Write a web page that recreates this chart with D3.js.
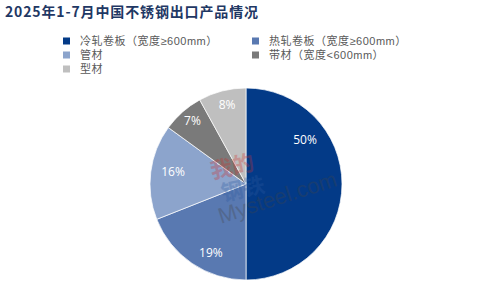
<!DOCTYPE html>
<html>
<head>
<meta charset="utf-8">
<script src="https://cdn.jsdelivr.net/npm/d3@7"></script>
<style>
  body { margin: 0; background: #fff; }
  svg { display: block; }
</style>
</head>
<body>
<svg width="501" height="286"></svg>
<script>
const title = '2025年1-7月中国不锈钢出口产品情况'

// product categories, in clockwise order from 12 o'clock
const categories = ['冷轧卷板（宽度≥600mm）', '热轧卷板（宽度≥600mm）', '管材', '带材（宽度<600mm）', '型材']
const shares = [50, 19, 16, 7, 8]
const colors = ['#033a87', '#5979b1', '#8ca4cc', '#7a7a7a', '#bfbfbf']

const svg = d3.select('svg'),
    cx = 246,
    cy = 184,
    radius = 96

// label placement, like the spreadsheet's own: fraction of radius, angle tweak (deg)
const labelRadius = [0.77, 0.8, 0.77, 0.86, 0.85],
    labelTurn = [-37, -7, 2, 1, 1]

const font = '"Noto Sans CJK SC", "Noto Sans", sans-serif',
    legendFont = '"Liberation Sans", "Noto Sans CJK SC", sans-serif'

svg.append('text')
    .attr('x', 5)
    .attr('y', 17)
    .attr('textLength', 253)
    .style('font-family', font)
    .style('font-size', '14px')
    .style('font-weight', 'bold')
    .style('fill', '#1f3864')
    .text(title)

// legend, two columns, row by row
const legend = svg.append('g')
    .selectAll('g')
    .data(categories)
    .enter().append('g')
    .attr('transform', (d, i) => 'translate(' + (i % 2 === 0 ? 63 : 252) + ',' + (41 + Math.floor(i / 2) * 14) + ')')

legend.append('rect')
    .attr('x', 0)
    .attr('y', -3.5)
    .attr('width', 7)
    .attr('height', 7)
    .style('fill', (d, i) => colors[i])

legend.append('text')
    .attr('x', 17)
    .attr('y', 4)
    .style('font-family', legendFont)
    .style('font-size', '11px')
    .style('letter-spacing', '0.5px')
    .style('fill', '#595959')
    .text((d) => d)

// pie
const pie = d3.pie().sort(null).value((d) => d)
const arc = d3.arc().innerRadius(0).outerRadius(radius)

const origin = svg.append('g')
    .attr('transform', 'translate(' + cx + ',' + cy + ')')

const slices = pie(shares)

origin.selectAll('path.slice')
    .data(slices)
    .enter().append('path')
    .attr('class', 'slice')
    .attr('d', arc)
    .style('fill', (d, i) => colors[i])
    .style('stroke', '#fff')
    .style('stroke-width', 0.7)

// watermark
const wm = origin.append('g')
    .style('opacity', 0.3)
wm.append('text')
    .attr('x', -32).attr('y', -12)
    .attr('transform', 'rotate(-12)')
    .style('font-family', font).style('font-size', '22px').style('font-weight', 'bold')
    .style('fill', '#d0312d')
    .text('我的')
wm.append('text')
    .attr('x', -26).attr('y', 12)
    .attr('transform', 'rotate(-12)')
    .style('font-family', font).style('font-size', '22px').style('font-weight', 'bold')
    .style('fill', '#2c5aa0')
    .text('钢铁')
wm.append('text')
    .attr('x', -36).attr('y', 30)
    .attr('transform', 'rotate(-18)')
    .style('font-family', '"Liberation Sans", sans-serif').style('font-size', '22px')
    .style('fill', '#444')
    .text('Mysteel.com')

origin.selectAll('text.label')
    .data(slices)
    .enter().append('text')
    .attr('class', 'label')
    .attr('x', (d, i) => Math.sin((d.startAngle + d.endAngle) / 2 + labelTurn[i] * Math.PI / 180) * radius * labelRadius[i])
    .attr('y', (d, i) => -Math.cos((d.startAngle + d.endAngle) / 2 + labelTurn[i] * Math.PI / 180) * radius * labelRadius[i])
    .attr('dy', '0.35em')
    .style('text-anchor', 'middle')
    .style('font-family', '"Open Sans", "Noto Sans", sans-serif')
    .style('font-size', '12px')
    .style('fill', '#fff')
    .text((d) => d.data + '%')
</script>
</body>
</html>
